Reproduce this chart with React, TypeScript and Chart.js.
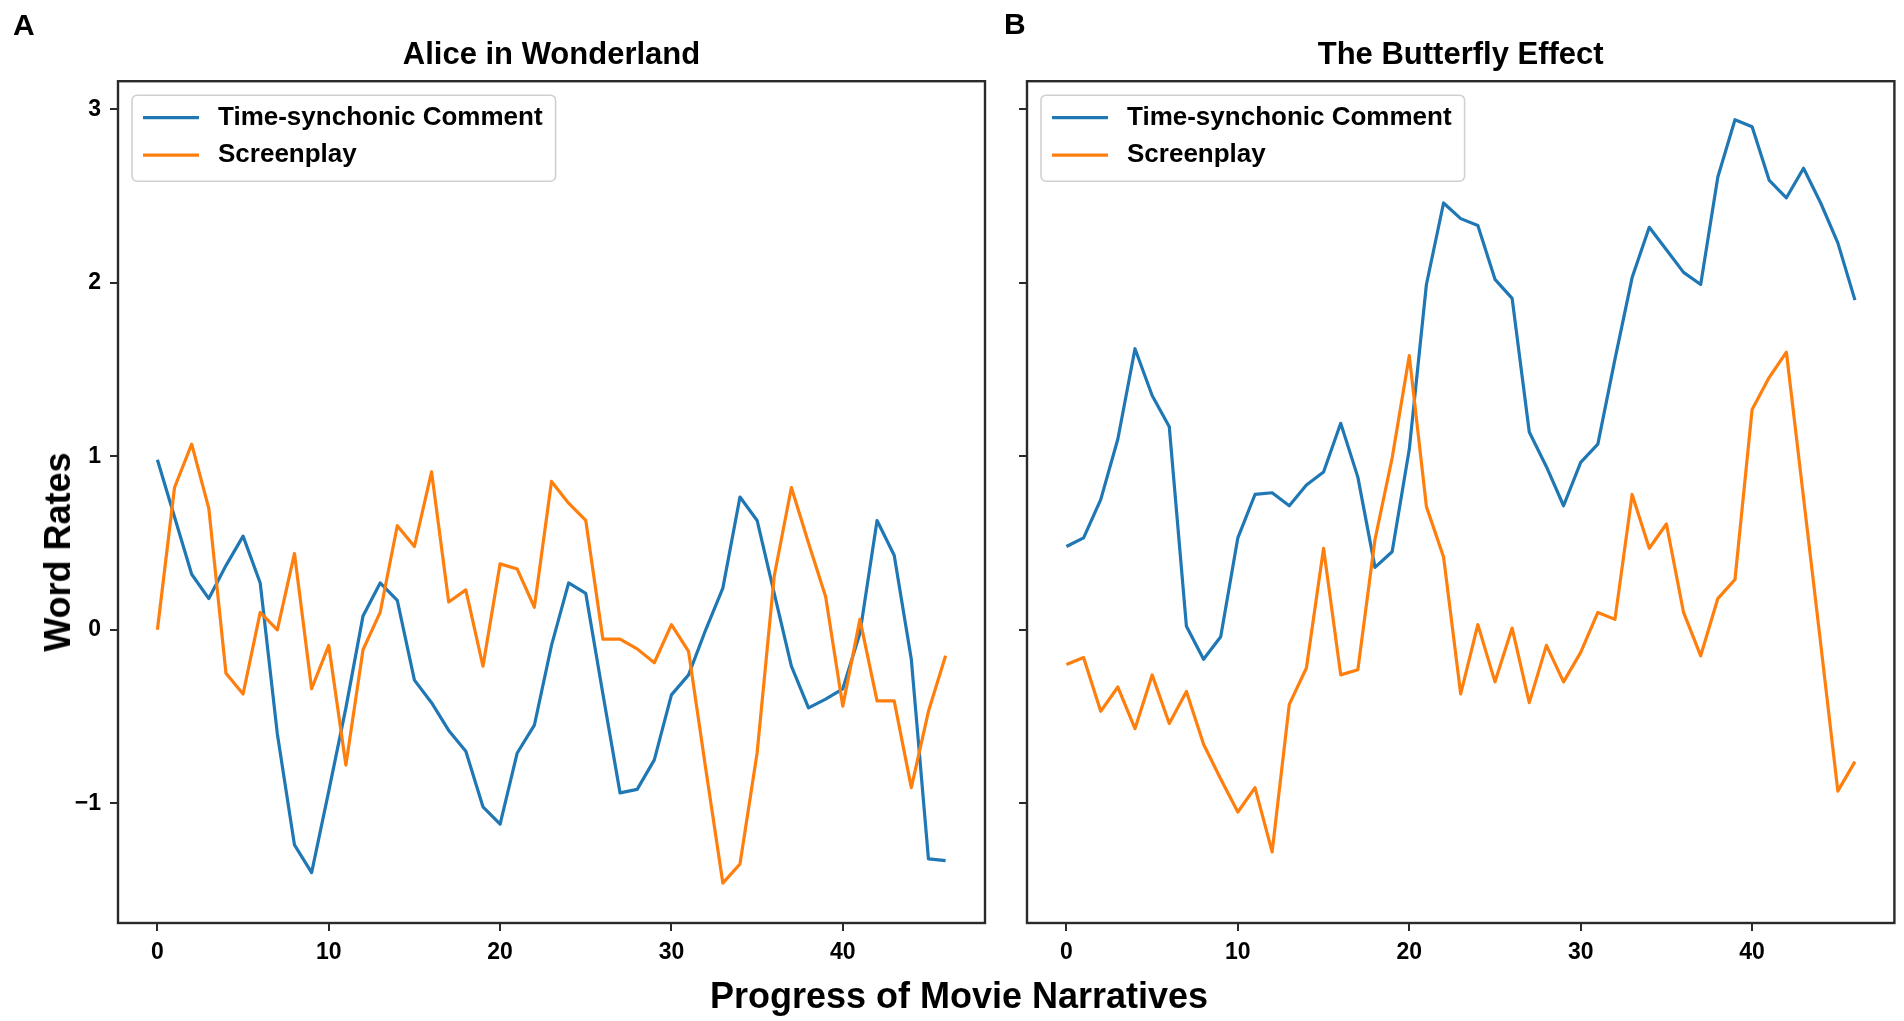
import React, { useEffect, useRef } from "react";
import { Chart, registerables } from "chart.js";

Chart.register(...registerables);

const FONT = '"Liberation Sans", Arial, Helvetica, sans-serif';
const BLUE = "#1f77b4";
const ORANGE = "#ff7f0e";
const AXIS_COLOR = "#2a2a2a";

// ---- data ----
const progress = [
  0, 1, 2, 3, 4, 5, 6, 7, 8, 9, 10, 11, 12, 13, 14, 15, 16, 17, 18, 19, 20, 21, 22, 23,
  24, 25, 26, 27, 28, 29, 30, 31, 32, 33, 34, 35, 36, 37, 38, 39, 40, 41, 42, 43, 44, 45, 46,
];

const seriesNames = ["Time-synchonic Comment", "Screenplay"];
const panelTitles = ["Alice in Wonderland", "The Butterfly Effect"];
const panelLetters = ["A", "B"];

const aliceComment = [
  0.98, 0.65, 0.32, 0.18, 0.37, 0.54, 0.27, -0.6, -1.24, -1.4, -0.93, -0.45, 0.08, 0.27,
  0.17, -0.29, -0.42, -0.58, -0.7, -1.02, -1.12, -0.71, -0.55, -0.09, 0.27, 0.21, -0.37,
  -0.94, -0.92, -0.75, -0.375, -0.26, 0.0, 0.24, 0.765, 0.63, 0.21, -0.21, -0.45, -0.4,
  -0.34, -0.02, 0.63, 0.43, -0.17, -1.32, -1.33,
];
const aliceScreenplay = [
  0.0, 0.82, 1.07, 0.7, -0.25, -0.37, 0.1, 0.0, 0.44, -0.34, -0.09, -0.78, -0.115, 0.1,
  0.6, 0.48, 0.91, 0.16, 0.23, -0.21, 0.38, 0.35, 0.13, 0.855, 0.73, 0.63, -0.054, -0.054,
  -0.11, -0.19, 0.03, -0.125, -0.8, -1.46, -1.35, -0.71, 0.31, 0.82, 0.5, 0.19, -0.44,
  0.06, -0.41, -0.41, -0.91, -0.47, -0.15,
];
const butterflyComment = [
  0.48, 0.53, 0.75, 1.1, 1.62, 1.35, 1.17, 0.02, -0.17, -0.04, 0.53, 0.78, 0.79, 0.715,
  0.835, 0.91, 1.19, 0.88, 0.36, 0.45, 1.04, 1.99, 2.46, 2.37, 2.33, 2.02, 1.91, 1.14,
  0.94, 0.715, 0.965, 1.07, 1.56, 2.03, 2.32, 2.19, 2.06, 1.99, 2.61, 2.94, 2.9, 2.59,
  2.49, 2.66, 2.46, 2.23, 1.9,
];
const butterflyScreenplay = [
  -0.2, -0.16, -0.47, -0.33, -0.57, -0.26, -0.54, -0.355, -0.66, -0.86, -1.05, -0.91,
  -1.28, -0.43, -0.22, 0.47, -0.26, -0.23, 0.52, 0.99, 1.58, 0.71, 0.42, -0.37, 0.03,
  -0.3, 0.01, -0.42, -0.09, -0.3, -0.13, 0.1, 0.06, 0.78, 0.47, 0.61, 0.1, -0.15, 0.18,
  0.29, 1.27, 1.455, 1.6, 0.76, -0.08, -0.93, -0.76,
];

const xTickValues = [0, 10, 20, 30, 40];
const yTickValues = [-1, 0, 1, 2, 3];
const xLabel = "Progress of Movie Narratives";
const yLabel = "Word Rates";

const X_MIN = -2.3;
const X_MAX = 48.3;
const Y_MIN = -1.69;
const Y_MAX = 3.162;

// ---- plugins ----
const framePlugin = {
  id: "frameBox",
  afterDatasetsDraw(chart: any) {
    const { ctx, chartArea } = chart;
    ctx.save();
    ctx.strokeStyle = AXIS_COLOR;
    ctx.lineWidth = 2.4;
    ctx.strokeRect(
      chartArea.left,
      chartArea.top,
      chartArea.right - chartArea.left,
      chartArea.bottom - chartArea.top
    );
    ctx.restore();
  },
};

const legendBoxPlugin = {
  id: "legendBox",
  afterDatasetsDraw(chart: any) {
    const { ctx, chartArea } = chart;
    const datasets = chart.data.datasets;
    ctx.save();
    ctx.font = `bold 26px ${FONT}`;
    let textW = 0;
    datasets.forEach((d: any) => {
      textW = Math.max(textW, ctx.measureText(d.label).width);
    });
    const bx = chartArea.left + 14;
    const by = chartArea.top + 14;
    const bw = textW + 99;
    const bh = 86;
    ctx.beginPath();
    if ((ctx as any).roundRect) (ctx as any).roundRect(bx, by, bw, bh, 5);
    else ctx.rect(bx, by, bw, bh);
    ctx.fillStyle = "rgba(255,255,255,0.8)";
    ctx.fill();
    ctx.strokeStyle = "#d0d0d0";
    ctx.lineWidth = 1.6;
    ctx.stroke();
    datasets.forEach((d: any, i: number) => {
      const y = by + 22.5 + i * 37.5;
      ctx.beginPath();
      ctx.moveTo(chartArea.left + 25, y);
      ctx.lineTo(chartArea.left + 81, y);
      ctx.strokeStyle = d.borderColor;
      ctx.lineWidth = 3.2;
      ctx.stroke();
      ctx.fillStyle = "#000";
      ctx.textBaseline = "middle";
      ctx.textAlign = "left";
      ctx.fillText(d.label, chartArea.left + 100, y);
    });
    ctx.restore();
  },
};

const fmtTick = (v: number) => (v < 0 ? "\u2212" + Math.abs(v) : String(v));

type PanelProps = {
  title: string;
  comment: number[];
  screenplay: number[];
  left: number;
  width: number;
  yAxisWidth: number;
  padRight: number;
  showYLabels: boolean;
};

function Panel(props: PanelProps) {
  const ref = useRef<HTMLCanvasElement>(null);
  useEffect(() => {
    const canvas = ref.current;
    if (!canvas) return;
    const tickFont = { family: FONT, size: 23, weight: "bold" as const };
    const chart = new Chart(canvas, {
      type: "line",
      data: {
        labels: progress,
        datasets: [
          {
            label: seriesNames[0],
            data: props.comment,
            borderColor: BLUE,
            backgroundColor: BLUE,
            borderWidth: 3.2,
            pointRadius: 0,
            tension: 0,
            fill: false,
            borderJoinStyle: "round",
            order: 2,
          },
          {
            label: seriesNames[1],
            data: props.screenplay,
            borderColor: ORANGE,
            backgroundColor: ORANGE,
            borderWidth: 3.2,
            pointRadius: 0,
            tension: 0,
            fill: false,
            borderJoinStyle: "round",
            order: 1,
          },
        ],
      },
      options: {
        responsive: false,
        animation: false,
        layout: { padding: { left: 0, right: props.padRight, top: 0, bottom: 0 } },
        plugins: {
          legend: { display: false },
          tooltip: { enabled: false },
          title: {
            display: true,
            text: props.title,
            fullSize: false,
            color: "#000",
            font: { family: FONT, size: 31, weight: "bold" },
            padding: { top: 37, bottom: 7 },
          },
        },
        scales: {
          x: {
            type: "linear",
            min: X_MIN,
            max: X_MAX,
            afterBuildTicks: (s: any) => {
              s.ticks = xTickValues.map((v) => ({ value: v }));
            },
            afterFit: (s: any) => {
              s.height = 98;
            },
            border: { display: false },
            grid: {
              drawOnChartArea: false,
              drawTicks: true,
              tickLength: 8,
              color: AXIS_COLOR,
              lineWidth: 2,
            },
            ticks: {
              font: tickFont,
              color: "#000",
              padding: 8,
              maxRotation: 0,
              autoSkip: false,
              callback: (v: any) => fmtTick(Number(v)),
            },
          },
          y: {
            type: "linear",
            min: Y_MIN,
            max: Y_MAX,
            afterBuildTicks: (s: any) => {
              s.ticks = yTickValues.map((v) => ({ value: v }));
            },
            afterFit: (s: any) => {
              s.width = props.yAxisWidth;
            },
            border: { display: false },
            grid: {
              drawOnChartArea: false,
              drawTicks: true,
              tickLength: 8,
              color: AXIS_COLOR,
              lineWidth: 2,
            },
            ticks: {
              display: props.showYLabels,
              font: tickFont,
              color: "#000",
              padding: 9,
              autoSkip: false,
              callback: (v: any) => fmtTick(Number(v)),
            },
          },
        },
      },
      plugins: [framePlugin, legendBoxPlugin],
    } as any);
    return () => chart.destroy();
  }, []);
  return (
    <canvas
      ref={ref}
      width={props.width}
      height={1021}
      style={{ position: "absolute", left: props.left, top: 0 }}
    />
  );
}

export default function App() {
  const letterStyle: React.CSSProperties = {
    position: "absolute",
    fontSize: 30,
    fontWeight: "bold",
    lineHeight: "30px",
    color: "#000",
    fontFamily: FONT,
  };
  return (
    <div
      style={{
        position: "absolute",
        left: 0,
        top: 0,
        width: 1904,
        height: 1021,
        background: "#fff",
        overflow: "hidden",
        fontFamily: FONT,
      }}
    >
      <Panel
        title={panelTitles[0]}
        comment={aliceComment}
        screenplay={aliceScreenplay}
        left={0}
        width={1000}
        yAxisWidth={118}
        padRight={15}
        showYLabels={true}
      />
      <Panel
        title={panelTitles[1]}
        comment={butterflyComment}
        screenplay={butterflyScreenplay}
        left={1000}
        width={904}
        yAxisWidth={27}
        padRight={9.6}
        showYLabels={false}
      />
      <div style={{ ...letterStyle, left: 13, top: 10 }}>{panelLetters[0]}</div>
      <div style={{ ...letterStyle, left: 1004, top: 9 }}>{panelLetters[1]}</div>
      <div
        style={{
          position: "absolute",
          left: 459,
          width: 1000,
          top: 978,
          textAlign: "center",
          fontSize: 36,
          lineHeight: "36px",
          fontWeight: "bold",
          color: "#000",
          whiteSpace: "nowrap",
        }}
      >
        {xLabel}
      </div>
      <div
        style={{
          position: "absolute",
          left: 57.5,
          top: 552,
          transform: "translate(-50%, -50%) rotate(-90deg)",
          fontSize: 36,
          lineHeight: "36px",
          fontWeight: "bold",
          color: "#000",
          whiteSpace: "nowrap",
        }}
      >
        {yLabel}
      </div>
    </div>
  );
}
